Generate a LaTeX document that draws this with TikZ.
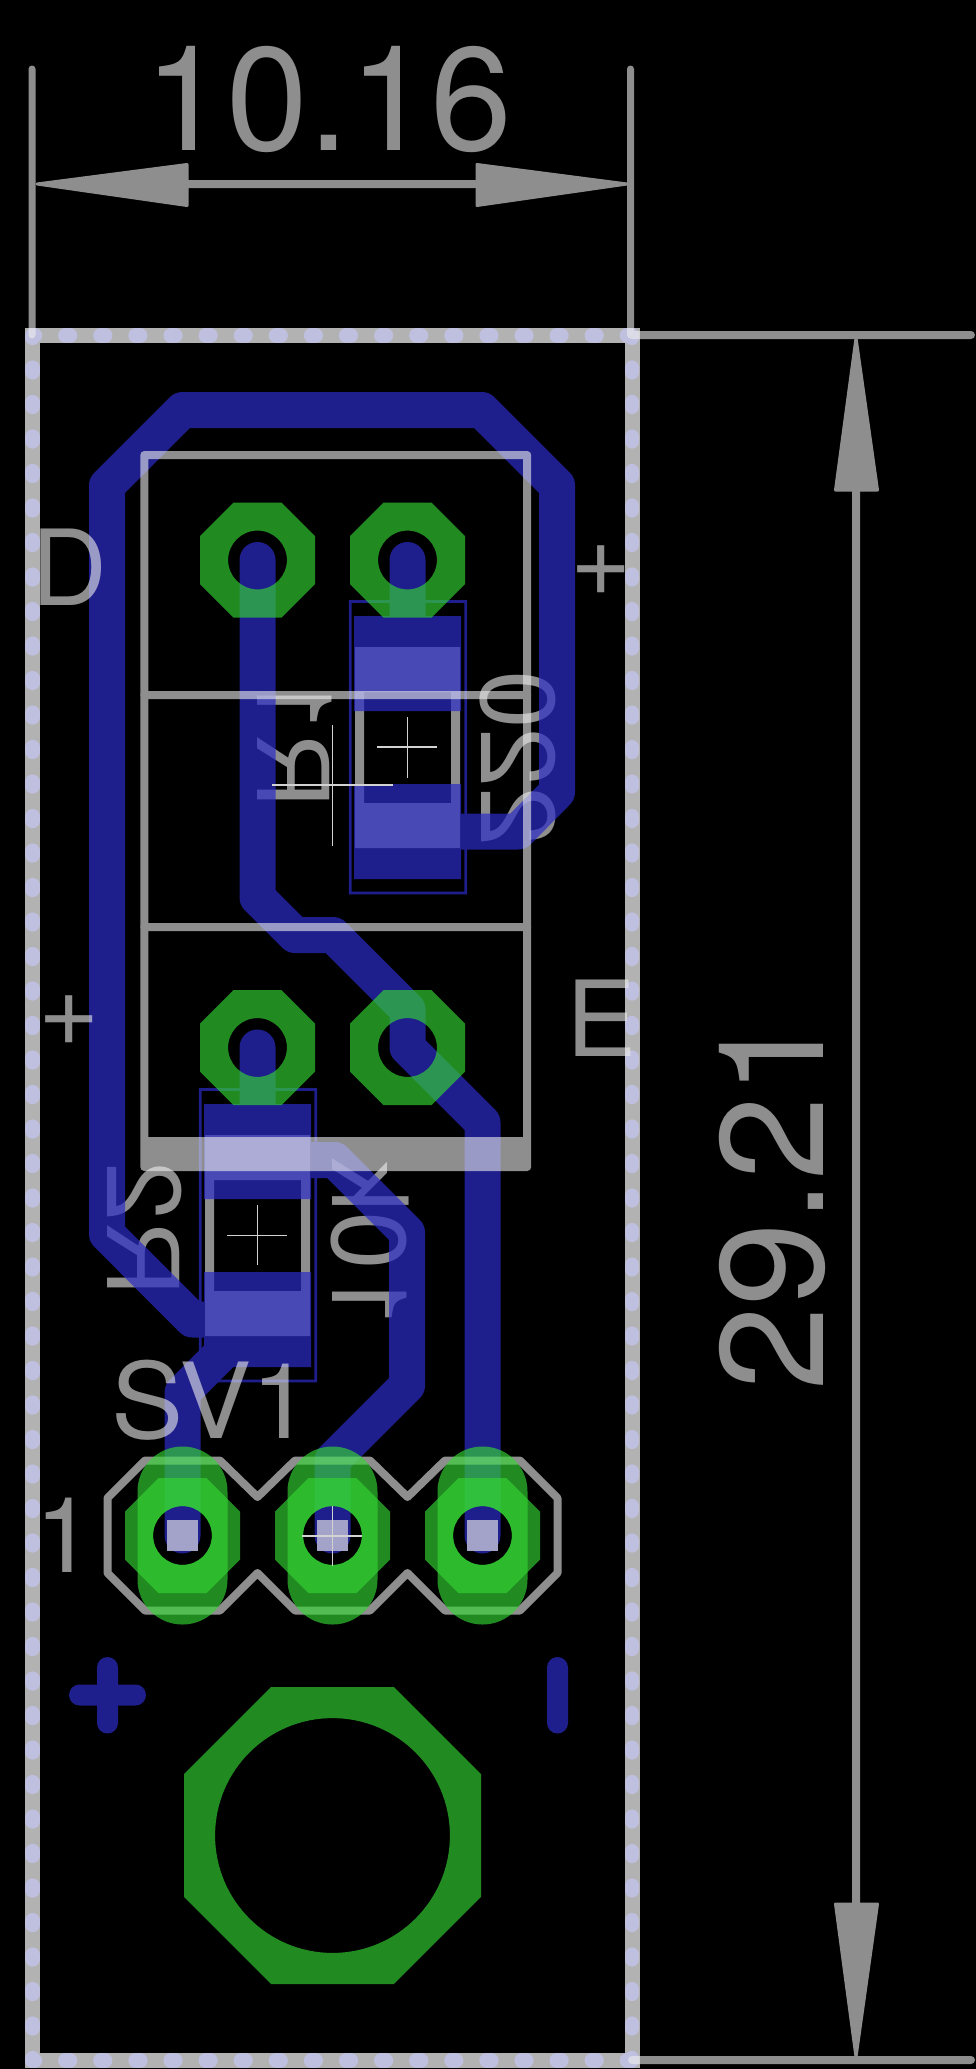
\documentclass[tikz,border=0pt]{standalone}
\usepackage{graphicx}
\usepackage{fontspec}
\setmainfont{TeX Gyre Heros}
\newfontfamily\arialfont{Liberation Sans}
\usetikzlibrary{calc}
\definecolor{dimgray}{HTML}{8E8E8E}
\definecolor{veilgray}{HTML}{EEEEEE}
\definecolor{bandgray}{HTML}{B2B2B2}
\definecolor{milldot}{HTML}{BFC0E0}
\definecolor{cublue}{rgb}{0.171,0.171,0.786}
\definecolor{padgreen}{rgb}{0.205,0.84,0.205}
\definecolor{drillsq}{HTML}{A3A3C9}
\definecolor{crossw}{HTML}{D2D2D2}
\tikzset{
  trace/.style={draw=cublue,line width=36pt,line cap=round,line join=round},
  logo/.style={draw=cublue,line width=21pt,line cap=round},
  smdpad/.style={fill=cublue},
  smdframe/.style={draw=cublue,line width=2.7pt},
  grayline/.style={draw=veilgray,line width=8pt,line cap=round,line join=round},
  thinext/.style={draw=veilgray,line width=7pt,line cap=round},
  arrowtri/.style={fill=veilgray,draw=veilgray,line width=3pt,line join=round},
  padfill/.style={fill=padgreen,opacity=0.65,even odd rule},
  crossline/.style={draw=crossw,line width=1.3pt},
  labeltext/.style={text=dimgray,inner sep=0pt,outer sep=0pt,font=\fontsize{105}{105}\selectfont},
  veiltext/.style={labeltext,text=veilgray},
  dimtext/.style={text=veilgray,inner sep=0pt,outer sep=0pt,font=\fontsize{147}{147}\selectfont},
  band/.style={draw=bandgray,line width=15pt,line cap=round},
  dotsh/.style={draw=milldot,line width=14.7pt,line cap=round,dash pattern=on 4.5pt off 30.6pt,dash phase=2.25pt},
  dotsv/.style={draw=milldot,line width=14.7pt,line cap=round,dash pattern=on 4.5pt off 30pt,dash phase=2.25pt}
}
\newcommand{\octpath}[4]{({#1-#3},{#2-#4}) -- ({#1-#4},{#2-#3}) -- ({#1+#4},{#2-#3}) -- ({#1+#3},{#2-#4}) -- ({#1+#3},{#2+#4}) -- ({#1+#4},{#2+#3}) -- ({#1-#4},{#2+#3}) -- ({#1-#3},{#2+#4}) -- cycle}
\newcommand{\mirtext}[4]{\node[labeltext,rotate=-90,anchor=base east] (#1) at (#2,#3) {\reflectbox{#4}};}
\begin{document}
\begin{tikzpicture}[x=1pt,y=-1pt]
\useasboundingbox (0,0) rectangle (976,2069);
\fill[black] (0,0) rectangle (976,2069);
% board outline
\coordinate (tl) at (32.6,335.5); \coordinate (tr) at (632,335.5);
\coordinate (bl) at (32.6,2060.5); \coordinate (br) at (632,2060.5);
\draw[band] (tl) -- (tr) -- (br) -- (bl) -- cycle;
\draw[dotsh] (tl) -- (tr);
\draw[dotsh] (bl) -- (br);
\draw[dotsv] (tl) -- (bl);
\draw[dotsv] (tr) -- (br);
% part bodies and value text below the copper
\fill[dimgray,even odd rule] (355,647) rectangle (460,848) (364,692) rectangle (451,803);
\fill[dimgray,even odd rule] (205,1135) rectangle (310,1336) (214,1180) rectangle (301,1291);
\mirtext{rone}{257}{808}{{\arialfont R}1}
\mirtext{rtwo}{107}{1296}{{\arialfont R}2}
\mirtext{vtwo}{481.6}{845}{220}
\mirtext{vten}{332}{1328}{10k}
% copper
\begin{scope}[transparency group,opacity=0.7]
  \draw[trace] (407,831.5) -- (518,831.5) -- (557,792) -- (557,485.3) -- (481.7,410) -- (182.5,410) -- (107,485.5) -- (107,1234) -- (192.4,1319.5) -- (257.5,1319.5);
  \draw[trace] (407.5,560) -- (407.5,663.5);
  \draw[trace] (257.5,560) -- (257.5,897.5) -- (295,935) -- (333,935) -- (407.5,1009.5) -- (407.5,1047.5) -- (482.5,1122.5) -- (482.5,1535.5);
  \draw[trace] (257.5,1047.5) -- (257.5,1151.5);
  \draw[trace] (257.5,1160) -- (334.5,1160) -- (407,1232.5) -- (407,1385.5) -- (332.5,1460) -- (332.5,1535.5);
  \draw[trace] (257.5,1317.5) -- (182.5,1392.5) -- (182.5,1535.5);
  \fill[smdpad] (354,616) rectangle (461,711);
  \fill[smdpad] (354,784) rectangle (461,879);
  \fill[smdpad] (204,1104) rectangle (311,1199);
  \fill[smdpad] (204,1272) rectangle (311,1367);
  \draw[smdframe] (350.3,601.5) rectangle (465.7,893);
  \draw[smdframe] (200.3,1089.5) rectangle (315.7,1381);
  \draw[logo] (107.5,1667.5) -- (107.5,1723);
  \draw[logo] (79.5,1695) -- (135.5,1695);
  \draw[logo] (557.5,1667.5) -- (557.5,1723);
\end{scope}
% dimension and outline layer
\begin{scope}[transparency group,opacity=0.6]
  \draw[thinext] (32,69) -- (32,335);
  \draw[thinext] (630.5,69) -- (630.5,335);
  \draw[grayline] (188,184) -- (475,184);
  \draw[arrowtri] (37,184) -- (187,164.5) -- (187,205.5) -- cycle;
  \draw[arrowtri] (627,184) -- (477,164.5) -- (477,205.5) -- cycle;
  \draw[grayline] (632,335) -- (971,335);
  \draw[grayline] (632,2060) -- (971,2060);
  \draw[grayline] (856,490) -- (856,1903);
  \draw[arrowtri] (856,338) -- (835.5,490) -- (877.5,490) -- cycle;
  \draw[arrowtri] (856,2057) -- (835.5,1904) -- (877.5,1904) -- cycle;
  \draw[grayline] (144.3,455) rectangle (527.2,1167);
  \draw[grayline] (144.3,695) -- (527.2,695);
  \draw[grayline] (144.3,927) -- (527.2,927);
  \fill[veilgray] (144.3,1137) rectangle (527.2,1167);
  \draw[grayline] (145,1460.5) -- (220,1460.5) -- (257.5,1497) -- (295,1460.5) -- (370,1460.5) -- (407.5,1497) -- (445,1460.5) -- (520,1460.5) -- (557.5,1498) -- (557.5,1573) -- (520,1610.5) -- (445,1610.5) -- (407.5,1573) -- (370,1610.5) -- (295,1610.5) -- (257.5,1573) -- (220,1610.5) -- (145,1610.5) -- (107.5,1573) -- (107.5,1498) -- cycle;
  \node[dimtext,anchor=base west] (widthlabel) at (144.7,150.7) {10.16};
  \node[dimtext,rotate=90,anchor=base west] (heightlabel) at (823,1390) {\scalebox{1.025}[1]{29.21}};
  \node[veiltext,anchor=base west] (ldrain) at (31,605.6) {D};
  \node[veiltext,anchor=base west] (lplusr) at (570.8,595) {+};
  \node[veiltext,anchor=base west] (lplusl) at (38.7,1045) {+};
  \node[veiltext,anchor=base west] (lemit) at (566.7,1056) {E};
  \node[veiltext,anchor=base west] (lsv) at (111.6,1438) {\scalebox{1.03}[1]{SV1}};
  \node[veiltext,anchor=base west] (lone) at (35.3,1572.4) {1};
\end{scope}
% pads
\fill[padfill] \octpath{257.5}{560}{57.5}{24} (257.5,560) circle[radius=29.4pt];
\fill[padfill] \octpath{407.5}{560}{57.5}{24} (407.5,560) circle[radius=29.4pt];
\fill[padfill] \octpath{257.5}{1047.5}{57.5}{24} (257.5,1047.5) circle[radius=29.4pt];
\fill[padfill] \octpath{407.5}{1047.5}{57.5}{24} (407.5,1047.5) circle[radius=29.4pt];
\foreach \cx in {182.5,332.5,482.5}{
  \fill[padfill] \octpath{\cx}{1535.5}{57.5}{24} (\cx,1535.5) circle[radius=29.4pt];
  \fill[padfill,rounded corners=44.9pt] ({\cx-45},1446.5) rectangle ({\cx+45},1624.5) [sharp corners] (\cx,1535.5) circle[radius=29.4pt];
  \fill[drillsq] ({\cx-15.5},1520) rectangle ({\cx+15.5},1550.5);
}
\fill[padfill] \octpath{332.5}{1835.5}{148.5}{61.3} (332.5,1835.5) circle[radius=117.4pt];
% origin crosses
\draw[crossline] (377,747) -- (437,747) (407.4,717) -- (407.4,778);
\draw[crossline] (227,1235.3) -- (287,1235.3) (257.5,1205) -- (257.5,1265);
\draw[crossline] (272,785) -- (393,785) (332.6,725) -- (332.6,846);
\draw[crossline] (302.4,1536) -- (362.4,1536) (332.6,1506) -- (332.6,1566);
\end{tikzpicture}
\end{document}
